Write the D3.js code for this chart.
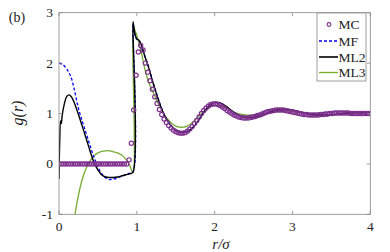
<!DOCTYPE html>
<html><head><meta charset="utf-8">
<script src="https://cdn.jsdelivr.net/npm/d3@7"></script>
<style>body{margin:0;background:#fff}svg{display:block}text{font-family:"Liberation Serif","DejaVu Serif",serif;fill:#222}</style>
</head><body><svg id="c" width="390" height="252"></svg>
<script>
// ---- data ----
const xTicks = [0, 1, 2, 3, 4];
const yTicks = [-1, 0, 1, 2, 3];
const seriesNames = ["MC", "MF", "ML2", "ML3"];

// MC: sampled every 0.03 in r/sigma
const mcStep = 0.03;
const mcG = [
  0,0,0,0,0,0,0,0,0,0, 0,0,0,0,0,0,0,0,0,0, 0,0,0,0,0,0,0,0,0,0,
  0.08,0.41,1.07,1.76,2.22,2.35,2.26,
  2.0,1.82,1.65,1.48,1.33,1.2,1.08,0.98,0.89,0.82,
  0.76,0.71,0.67,0.64,0.62,0.61,0.61,0.62,0.65,0.69,
  0.74,0.8,0.86,0.93,1.0,1.06,1.11,1.15,1.18,1.19,
  1.19,1.18,1.16,1.13,1.1,1.06,1.03,1.0,0.97,0.95,
  0.93,0.92,0.91,0.91,0.91,0.92,0.93,0.94,0.96,0.97,
  0.99,1.01,1.03,1.04,1.05,1.06,1.07,1.07,1.07,1.07,
  1.06,1.05,1.04,1.03,1.02,1.01,1.0,0.99,0.98,0.98,
  0.97,0.97,0.97,0.97,0.97,0.98,0.98,0.99,0.99,1.0,
  1.0,1.01,1.01,1.01,1.01,1.01,1.01,1.01,1.0,1.0,
  1.0,1.0,1.0,1.0,1.0,1.0,1.0
];

// common r grid for the curves after contact
const rTail = [0.951,0.97,1.0,1.03,1.06,1.1,1.15,1.2,1.25,1.3,1.35,1.4,1.45,1.5,1.55,1.6,1.65,1.7,1.75,1.8,1.85,1.9,1.95,2.0,2.05,2.1,2.15,2.2,2.25,2.3,2.35,2.4,2.45,2.5,2.55,2.6,2.65,2.7,2.75,2.8,2.85,2.9,2.95,3.0,3.1,3.2,3.3,3.4,3.5,3.6,3.7,3.8,3.9,4.0];

// ML2
const ml2R = [0,0.01,0.02,0.03,0.04,0.07,0.1,0.13,0.16,0.2,0.25,0.3,0.35,0.4,0.45,0.5,0.55,0.6,0.65,0.7,0.75,0.8,0.85,0.9,0.95];
const ml2Head = [-0.3,0.5,0.85,0.8,0.95,1.2,1.34,1.37,1.33,1.2,0.98,0.74,0.5,0.25,0.03,-0.12,-0.22,-0.26,-0.27,-0.27,-0.26,-0.24,-0.22,-0.2,-0.17];
const ml2Tail = [2.82,2.62,2.48,2.45,2.35,2.15,1.92,1.65,1.4,1.17,0.98,0.84,0.74,0.67,0.63,0.62,0.64,0.69,0.77,0.88,0.99,1.1,1.18,1.22,1.22,1.19,1.14,1.08,1.02,0.97,0.94,0.92,0.92,0.92,0.94,0.96,0.99,1.02,1.05,1.07,1.08,1.08,1.08,1.07,1.03,0.99,0.97,0.96,0.97,0.99,1.01,1.02,1.02,1.01];

// MF
const mfR = [0,0.05,0.1,0.15,0.2,0.25,0.3,0.35,0.4,0.45,0.5,0.55,0.6,0.65,0.7,0.75,0.8,0.85,0.9,0.95];
const mfHead = [2.0,1.97,1.88,1.74,1.45,1.1,0.84,0.6,0.36,0.13,-0.06,-0.2,-0.28,-0.31,-0.3,-0.28,-0.25,-0.22,-0.19,-0.16];
const mfTail = [2.8,2.6,2.47,2.44,2.34,2.15,1.93,1.66,1.41,1.18,0.99,0.85,0.75,0.68,0.64,0.63,0.65,0.7,0.78,0.89,1.0,1.1,1.17,1.21,1.21,1.18,1.13,1.07,1.02,0.98,0.95,0.93,0.93,0.93,0.95,0.97,1.0,1.02,1.05,1.06,1.07,1.07,1.07,1.06,1.03,0.99,0.97,0.97,0.98,0.99,1.01,1.02,1.01,1.01];

// ML3
const ml3R = [0.2,0.25,0.3,0.35,0.4,0.45,0.5,0.55,0.6,0.65,0.7,0.75,0.8,0.85,0.9,0.95];
const ml3Head = [-1.05,-0.62,-0.3,-0.08,0.06,0.16,0.22,0.25,0.26,0.26,0.24,0.22,0.18,0.11,0.0,-0.17];
const ml3Tail = [2.78,2.68,2.55,2.38,2.2,1.9,1.63,1.45,1.28,1.13,0.98,0.88,0.8,0.75,0.73,0.73,0.75,0.8,0.87,0.95,1.03,1.1,1.14,1.16,1.16,1.14,1.11,1.07,1.03,1.0,0.98,0.97,0.97,0.97,0.98,0.99,1.0,1.02,1.03,1.04,1.05,1.05,1.05,1.04,1.02,1.0,0.98,0.98,0.98,0.99,1.0,1.01,1.01,1.01];

// ---- drawing ----
const svg = d3.select("#c");
const x = d3.scaleLinear().domain([0, 4]).range([59, 370.3]);
const y = d3.scaleLinear().domain([-1, 3]).range([214.3, 12.7]);
const axisCol = "#888";

svg.append("defs").append("clipPath").attr("id","clip").append("rect")
  .attr("x", x(0)).attr("y", y(3)).attr("width", x(4)-x(0)).attr("height", y(-1)-y(3));

const zip = (rs, gs) => rs.map((r,i)=>[r, gs[i]]);
const ml2 = zip(ml2R, ml2Head).concat(zip(rTail, ml2Tail));
const mf  = zip(mfR, mfHead).concat(zip(rTail, mfTail));
const ml3 = zip(ml3R, ml3Head).concat(zip(rTail, ml3Tail));
const mc  = mcG.map((g,i)=>[i*mcStep, g]);

const line = d3.line().x(d=>x(d[0])).y(d=>y(d[1])).curve(d3.curveCatmullRom.alpha(0.5));
const plot = svg.append("g").attr("clip-path","url(#clip)");

// axes box with inward ticks
const tl = 3.5;
const ax = svg.append("g");
ax.append("rect").attr("x",x(0)).attr("y",y(3)).attr("width",x(4)-x(0)).attr("height",y(-1)-y(3))
  .attr("fill","none").attr("stroke",axisCol).attr("stroke-width",0.8);
xTicks.forEach(t=>{
  ax.append("line").attr("x1",x(t)).attr("x2",x(t)).attr("y1",y(-1)).attr("y2",y(-1)-tl).attr("stroke",axisCol).attr("stroke-width",0.8);
  ax.append("line").attr("x1",x(t)).attr("x2",x(t)).attr("y1",y(3)).attr("y2",y(3)+tl).attr("stroke",axisCol).attr("stroke-width",0.8);
  ax.append("text").attr("x",x(t)).attr("y",230.5).attr("text-anchor","middle").attr("font-size",13.5).text(t);
});
yTicks.forEach(t=>{
  ax.append("line").attr("x1",x(0)).attr("x2",x(0)+tl).attr("y1",y(t)).attr("y2",y(t)).attr("stroke",axisCol).attr("stroke-width",0.8);
  ax.append("line").attr("x1",x(4)).attr("x2",x(4)-tl).attr("y1",y(t)).attr("y2",y(t)).attr("stroke",axisCol).attr("stroke-width",0.8);
  ax.append("text").attr("x",x(0)-6).attr("y",y(t)+4.5).attr("text-anchor","end").attr("font-size",13.5).text(t);
});

// series
plot.append("path").datum(ml3).attr("d",line).attr("fill","none").attr("stroke","#77AC30").attr("stroke-width",1.3);
plot.append("path").datum(mf).attr("d",line).attr("fill","none").attr("stroke","#0000FF").attr("stroke-width",1.3).attr("stroke-dasharray","3,2");
plot.append("path").datum(ml2).attr("d",line).attr("fill","none").attr("stroke","#000").attr("stroke-width",1.4);
plot.selectAll("circle.mc").data(mc).enter().append("circle").attr("class","mc")
  .attr("cx",d=>x(d[0])).attr("cy",d=>y(d[1])).attr("r",2.1)
  .attr("fill","none").attr("stroke","#7E2F8E").attr("stroke-width",1.2);

// labels
svg.append("text").attr("x",17).attr("y",22).attr("text-anchor","middle").attr("font-size",14).text("(b)");
svg.append("text").attr("transform","translate(23,113) rotate(-90)").attr("text-anchor","middle")
  .attr("font-size",16).attr("font-style","italic").text("g(r)");
svg.append("text").attr("x",221).attr("y",248.5).attr("text-anchor","middle").attr("font-size",15).attr("font-style","italic").text("r/σ");

// legend
const lg = svg.append("g");
lg.append("rect").attr("x",317).attr("y",13).attr("width",49).attr("height",68).attr("fill","#fff").attr("stroke",axisCol).attr("stroke-width",0.8);
const ly = [24.5, 41, 57, 72.5];
const lstyles = [
  {type:"circle"},
  {stroke:"#0000FF", dash:"3,2", w:1.3},
  {stroke:"#000", w:1.6},
  {stroke:"#77AC30", w:1.3}
];
seriesNames.forEach((n,i)=>{
  const s = lstyles[i];
  if (s.type === "circle") {
    lg.append("circle").attr("cx",329).attr("cy",ly[i]).attr("r",1.9).attr("fill","none").attr("stroke","#7E2F8E").attr("stroke-width",1.1);
  } else {
    lg.append("line").attr("x1",319).attr("x2",338).attr("y1",ly[i]).attr("y2",ly[i]).attr("stroke",s.stroke).attr("stroke-width",s.w).attr("stroke-dasharray",s.dash||null);
  }
  lg.append("text").attr("x",338.5).attr("y",ly[i]+4.7).attr("font-size",13.5).text(n);
});
</script></body></html>
